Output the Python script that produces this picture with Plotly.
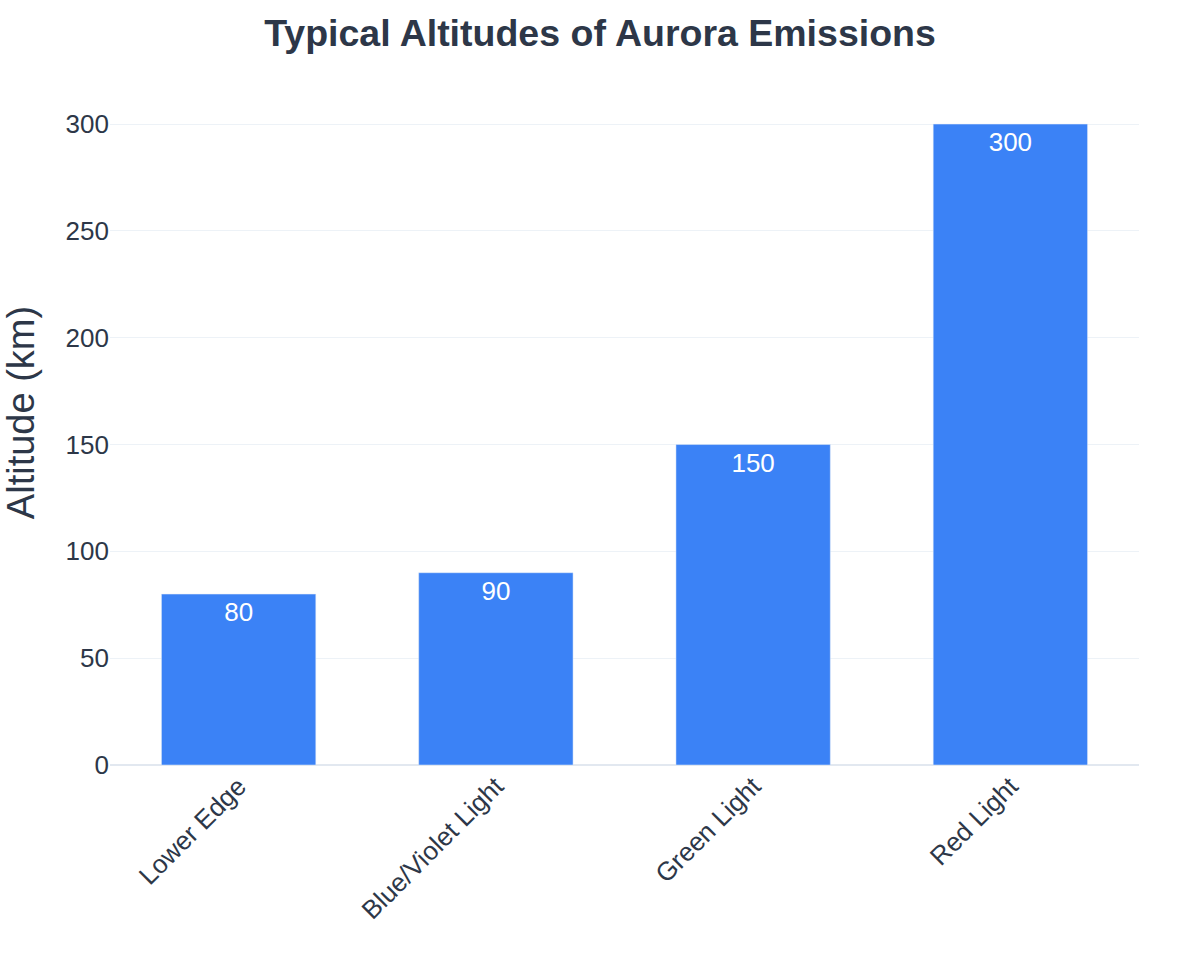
import plotly.graph_objects as go

categories = ["Lower Edge", "Blue/Violet Light", "Green Light", "Red Light"]
altitudes = [80, 90, 150, 300]

fig = go.Figure(
    go.Bar(
        x=categories,
        y=altitudes,
        text=altitudes,
        textposition="inside",
        insidetextanchor="end",
        textfont=dict(color="white", size=26, family="Liberation Sans, Arial, sans-serif"),
        marker=dict(color="#3b82f6"),
    )
)

fig.update_layout(
    width=1200,
    height=975,
    paper_bgcolor="white",
    plot_bgcolor="white",
    font=dict(family="Liberation Sans, Arial, sans-serif", color="#2d3748", size=26),
    title=dict(
        text="<b>Typical Altitudes of Aurora Emissions</b>",
        x=0.5,
        xanchor="center",
        y=0.966,
        yanchor="middle",
        font=dict(size=37.5, color="#2d3748"),
    ),
    margin=dict(l=110, r=61, t=60, b=210),
    bargap=0.4,
    showlegend=False,
)
fig.update_xaxes(tickangle=-45, showgrid=False, tickfont=dict(size=26))
fig.update_yaxes(
    title=dict(text="Altitude (km)", font=dict(size=38), standoff=24),
    gridcolor="#edf2f7",
    zeroline=True,
    zerolinecolor="#e2e8f0",
    zerolinewidth=2,
    tickfont=dict(size=26),
    range=[0, 330],
)

fig.write_html("out.html")
